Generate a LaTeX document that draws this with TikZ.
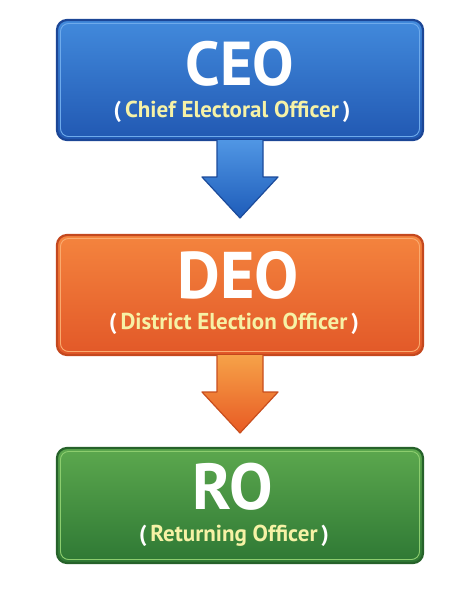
\documentclass[tikz,border=0pt]{standalone}
\usepackage{fontspec}
\setmainfont{PT Sans}[BoldFont={PT Sans Bold}, ItalicFont={PT Sans Italic}]
\usetikzlibrary{calc}
\definecolor{subyel}{HTML}{F6F2A6}
\tikzset{
  title/.style={text=white, font=\bfseries\upshape\fontsize{#1}{#1}\selectfont, inner sep=0pt,
    anchor=base, text height=0.7em, text depth=0pt},
  title/.default=65,
  sub/.style={text=subyel, font=\bfseries\upshape\fontsize{23}{24}\selectfont, inner sep=0pt,
    anchor=base, text height=17pt, text depth=4pt},
}
\begin{document}
\begin{tikzpicture}[x=1pt,y=-1pt]
\useasboundingbox (0,0) rectangle (474,595);
% boxes
\shade[top color={rgb,255:red,66;green,138;blue,220}, bottom color={rgb,255:red,33;green,88;blue,178}, rounded corners=10pt]
  (57,20) rectangle (423,140);
\draw[line width=2.2pt, draw={rgb,255:red,28;green,70;blue,150}, rounded corners=10pt] (57,20) rectangle (423,140);
\draw[line width=0.9pt, draw={rgb,255:red,110;green,170;blue,235}, rounded corners=8pt] (60.5,23.5) rectangle (419.5,136.5);
\coordinate (ceoS) at (240,140);

\shade[top color={rgb,255:red,244;green,132;blue,62}, bottom color={rgb,255:red,226;green,88;blue,40}, rounded corners=10pt]
  (57,235) rectangle (423,355);
\draw[line width=2.2pt, draw={rgb,255:red,196;green,72;blue,30}, rounded corners=10pt] (57,235) rectangle (423,355);
\draw[line width=0.9pt, draw={rgb,255:red,250;green,170;blue,110}, rounded corners=8pt] (60.5,238.5) rectangle (419.5,351.5);
\coordinate (deoN) at (240,235);
\coordinate (deoS) at (240,355);

\shade[top color={rgb,255:red,92;green,168;blue,78}, bottom color={rgb,255:red,46;green,120;blue,52}, rounded corners=10pt]
  (57,448) rectangle (423,563);
\draw[line width=2.2pt, draw={rgb,255:red,38;green,98;blue,42}, rounded corners=10pt] (57,448) rectangle (423,563);
\draw[line width=0.9pt, draw={rgb,255:red,140;green,205;blue,110}, rounded corners=8pt] (60.5,451.5) rectangle (419.5,559.5);
\coordinate (roN) at (240,448);

% texts
\node[title=62] (t1) at (240,85) {CEO};
\node[sub] (s1) at (232,117) {\textcolor{white}{(}\,Chief Electoral Officer\,\textcolor{white}{)}};
\node[title=66] (t2) at (238,298) {DEO};
\node[sub] (s2) at (234,329) {\textcolor{white}{(}\,District Election Officer\,\textcolor{white}{)}};
\node[title=65] (t3) at (233,509) {RO};
\node[sub] (s3) at (234,541) {\textcolor{white}{(}\,Returning Officer\,\textcolor{white}{)}};

% arrows
\shade[top color={rgb,255:red,80;green,150;blue,228}, bottom color={rgb,255:red,30;green,92;blue,185}]
  ($(ceoS)+(-23,0)$) -- ($(ceoS)+(23,0)$) -- ($(ceoS)+(23,37)$) -- ($(ceoS)+(38,37)$)
  -- ($(deoN)+(0,-17)$) -- ($(ceoS)+(-38,37)$) -- ($(ceoS)+(-23,37)$) -- cycle;
\draw[line width=1.2pt, draw={rgb,255:red,28;green,75;blue,155}, line join=round]
  ($(ceoS)+(-23,0)$) -- ($(ceoS)+(-23,37)$) -- ($(ceoS)+(-38,37)$) -- ($(deoN)+(0,-17)$)
  -- ($(ceoS)+(38,37)$) -- ($(ceoS)+(23,37)$) -- ($(ceoS)+(23,0)$);

\shade[top color={rgb,255:red,246;green,162;blue,72}, bottom color={rgb,255:red,232;green,90;blue,36}]
  ($(deoS)+(-23,0)$) -- ($(deoS)+(23,0)$) -- ($(deoS)+(23,37)$) -- ($(deoS)+(38,37)$)
  -- ($(roN)+(0,-15)$) -- ($(deoS)+(-38,37)$) -- ($(deoS)+(-23,37)$) -- cycle;
\draw[line width=1.2pt, draw={rgb,255:red,200;green,78;blue,30}, line join=round]
  ($(deoS)+(-23,0)$) -- ($(deoS)+(-23,37)$) -- ($(deoS)+(-38,37)$) -- ($(roN)+(0,-15)$)
  -- ($(deoS)+(38,37)$) -- ($(deoS)+(23,37)$) -- ($(deoS)+(23,0)$);
\end{tikzpicture}
\end{document}
